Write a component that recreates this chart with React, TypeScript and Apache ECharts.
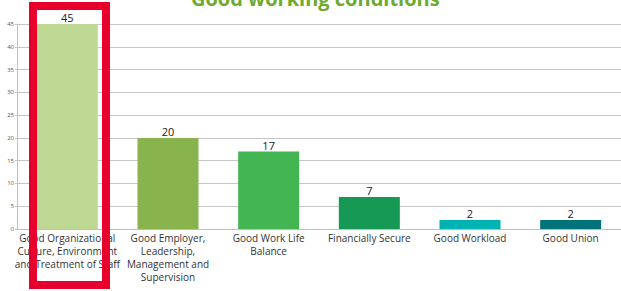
import React, { useEffect, useRef } from "react";
import * as echarts from "echarts";

const categories = [
  "Good Organizational\nCulture, Environment\nand Treatment of Staff",
  "Good Employer,\nLeadership,\nManagement and\nSupervision",
  "Good Work Life\nBalance",
  "Financially Secure",
  "Good Workload",
  "Good Union",
];
const values = [45, 20, 17, 7, 2, 2];
const barColors = ["#BDD994", "#89B34D", "#43B553", "#169955", "#00B3B3", "#00737A"];
const titleText = "Good working conditions";

export default function App() {
  const ref = useRef<HTMLDivElement>(null);
  useEffect(() => {
    if (!ref.current) return;
    const chart = echarts.init(ref.current, null, { renderer: "svg" });
    chart.setOption({
      animation: false,
      textStyle: { fontFamily: "Open Sans" },
      grid: { left: 17, right: 0, top: 24, bottom: 62, containLabel: false },
      xAxis: {
        type: "category",
        data: categories,
        axisLine: { show: true, lineStyle: { color: "#BFBFBF" } },
        axisTick: { show: false },
        axisLabel: {
          interval: 0,
          fontSize: 10,
          color: "#333",
          lineHeight: 13,
          margin: 2,
          fontFamily: "Open Sans",
        },
      },
      yAxis: {
        type: "value",
        min: 0,
        max: 45,
        interval: 5,
        axisLine: { show: true, lineStyle: { color: "#BFBFBF" } },
        axisTick: { show: true, length: 2, lineStyle: { color: "#BFBFBF" } },
        axisLabel: { fontSize: 6, color: "#555", margin: 3 },
        splitLine: { lineStyle: { color: "#C6C6C6", width: 1 } },
      },
      series: [
        {
          type: "bar",
          barWidth: 61,
          data: values.map((v, i) => ({ value: v, itemStyle: { color: barColors[i] } })),
          label: {
            show: true,
            position: "top",
            distance: 1,
            fontSize: 11,
            color: "#222",
            fontFamily: "Open Sans",
          },
        },
      ],
      graphic: [
        {
          type: "text",
          left: 191,
          top: -12,
          style: {
            text: titleText,
            fontSize: 20,
            fontWeight: "bold",
            fill: "#6DAA2F",
            fontFamily: "Open Sans",
          },
        },
        {
          type: "rect",
          shape: { x: 33, y: 6, width: 73, height: 279 },
          style: { fill: "none", stroke: "#E8002D", lineWidth: 8 },
          z: 100,
        },
      ],
    });
    return () => chart.dispose();
  }, []);
  return <div ref={ref} style={{ width: 621, height: 291, position: "absolute", left: 0, top: 0 }} />;
}
